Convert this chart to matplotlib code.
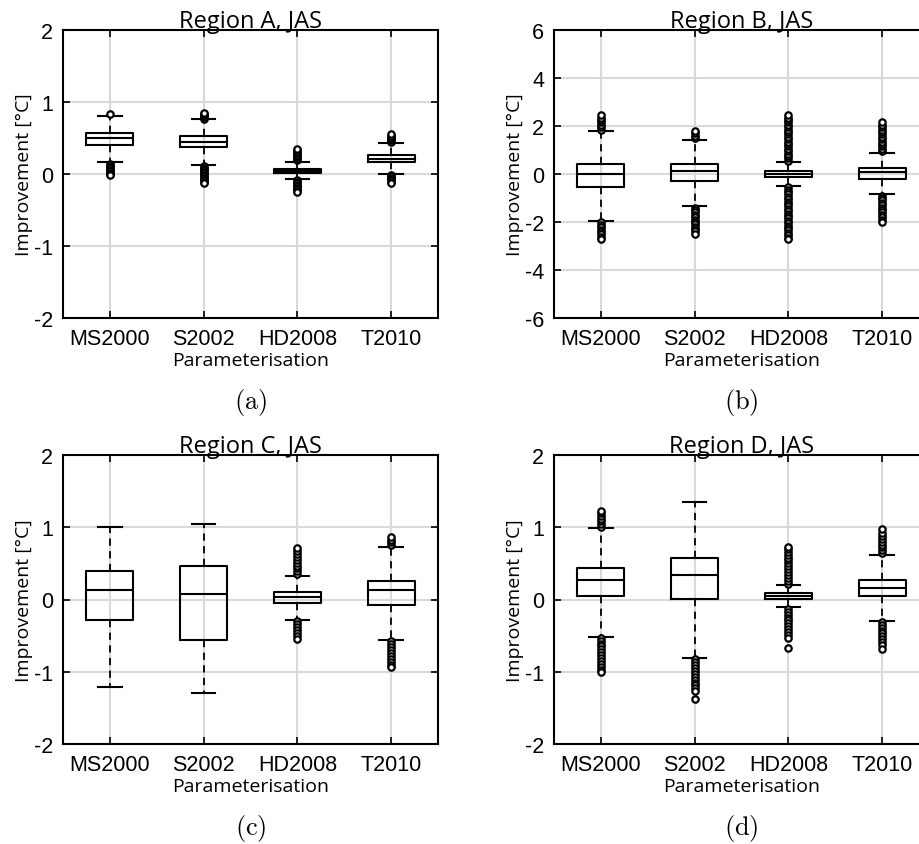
import matplotlib
matplotlib.use("Agg")
import matplotlib.pyplot as plt

plt.rcParams['mathtext.fontset'] = 'cm'
plt.rcParams['font.family'] = ['Liberation Sans', 'DejaVu Sans']

categories = ["MS2000", "S2002", "HD2008", "T2010"]
panel_titles = ["Region A, JAS", "Region B, JAS", "Region C, JAS", "Region D, JAS"]
panel_tags = ["(a)", "(b)", "(c)", "(d)"]
y_limits = [(-2, 2), (-6, 6), (-2, 2), (-2, 2)]
y_ticks = [[-2, -1, 0, 1, 2], [-6, -4, -2, 0, 2, 4, 6], [-2, -1, 0, 1, 2], [-2, -1, 0, 1, 2]]

# Box statistics per panel: [lower whisker, q1, median, q3, upper whisker]
stats_a = [[0.16, 0.40, 0.50, 0.57, 0.81],
           [0.13, 0.37, 0.445, 0.53, 0.77],
           [-0.075, 0.015, 0.045, 0.075, 0.17],
           [0.0, 0.16, 0.21, 0.27, 0.435]]
stats_b = [[-1.95, -0.54, 0.0, 0.40, 1.78],
           [-1.34, -0.31, 0.14, 0.42, 1.43],
           [-0.50, -0.14, 0.0, 0.14, 0.50],
           [-0.83, -0.21, 0.07, 0.24, 0.89]]
stats_c = [[-1.21, -0.28, 0.125, 0.39, 1.0],
           [-1.29, -0.554, 0.08, 0.457, 1.04],
           [-0.28, -0.05, 0.037, 0.10, 0.33],
           [-0.56, -0.074, 0.125, 0.25, 0.73]]
stats_d = [[-0.516, 0.05, 0.276, 0.43, 0.986],
           [-0.81, 0.01, 0.336, 0.571, 1.355],
           [-0.11, 0.01, 0.046, 0.0876, 0.207],
           [-0.295, 0.046, 0.166, 0.276, 0.622]]

# Outliers per panel and parameterisation
fliers_a = [[0.84, 0.14, 0.12, 0.10, 0.08, 0.06, 0.04, 0.02, 0.0, -0.02],
            [0.77, 0.79, 0.81, 0.83, 0.85, 0.11, 0.09, 0.07, 0.05, 0.03, 0.01,
             -0.01, -0.03, -0.05, -0.07, -0.09, -0.11, -0.13],
            [0.19, 0.21, 0.23, 0.25, 0.27, 0.29, 0.31, 0.33, 0.35,
             -0.09, -0.11, -0.13, -0.15, -0.17, -0.19, -0.21, -0.23, -0.25],
            [0.45, 0.47, 0.49, 0.51, 0.53, 0.55,
             -0.01, -0.03, -0.05, -0.07, -0.09, -0.11, -0.13]]
fliers_b = [[1.85, 1.95, 2.05, 2.15, 2.25, 2.35, 2.45,
             -2.02, -2.12, -2.22, -2.32, -2.42, -2.52, -2.62, -2.72],
            [1.50, 1.60, 1.70, 1.78,
             -1.40, -1.50, -1.60, -1.70, -1.80, -1.90, -2.00, -2.10, -2.20, -2.30, -2.38, -2.52],
            [0.55, 0.65, 0.75, 0.85, 0.95, 1.05, 1.15, 1.25, 1.35, 1.45,
             1.55, 1.65, 1.75, 1.85, 1.95, 2.05, 2.15, 2.25, 2.35, 2.45,
             -0.55, -0.65, -0.75, -0.85, -0.95, -1.05, -1.15, -1.25, -1.35, -1.45, -1.55,
             -1.65, -1.75, -1.85, -1.95, -2.05, -2.15, -2.25, -2.35, -2.45, -2.55, -2.65, -2.72],
            [0.95, 1.05, 1.15, 1.25, 1.35, 1.45, 1.55, 1.65, 1.75, 1.85, 1.95, 2.05, 2.18,
             -0.90, -1.00, -1.10, -1.20, -1.30, -1.40, -1.50, -1.60, -1.70, -1.80, -1.90, -1.98]]
fliers_c = [[],
            [],
            [0.35, 0.39, 0.43, 0.47, 0.51, 0.55, 0.59, 0.63, 0.67, 0.71,
             -0.30, -0.34, -0.38, -0.42, -0.46, -0.50, -0.54],
            [0.75, 0.79, 0.83, 0.87,
             -0.58, -0.62, -0.66, -0.70, -0.74, -0.78, -0.82, -0.86, -0.90, -0.94]]
fliers_d = [[1.00, 1.04, 1.08, 1.12, 1.16, 1.20, 1.23,
             -0.53, -0.57, -0.61, -0.65, -0.69, -0.73, -0.77, -0.81, -0.85, -0.89, -0.93, -0.97, -1.00],
            [-0.83, -0.87, -0.91, -0.95, -0.99, -1.03, -1.07, -1.11, -1.15, -1.19, -1.23, -1.27, -1.38],
            [0.22, 0.26, 0.30, 0.34, 0.38, 0.42, 0.46, 0.50, 0.54, 0.58, 0.62, 0.66, 0.70, 0.73,
             -0.13, -0.17, -0.21, -0.25, -0.29, -0.33, -0.37, -0.41, -0.45, -0.49, -0.53, -0.67],
            [0.64, 0.68, 0.72, 0.76, 0.80, 0.84, 0.88, 0.92, 0.97,
             -0.31, -0.35, -0.39, -0.43, -0.47, -0.51, -0.55, -0.59, -0.63, -0.68]]

all_stats = [stats_a, stats_b, stats_c, stats_d]
all_fliers = [fliers_a, fliers_b, fliers_c, fliers_d]

W, H = 920, 845
fig = plt.figure(figsize=(W / 100, H / 100), dpi=100)

# axes rectangles in pixels: left, top, width, height
rects = [(63, 31, 375, 288), (554, 31, 375, 288),
         (63, 456, 375, 289), (554, 456, 375, 289)]

title_font = dict(family=["Open Sans", "DejaVu Sans"], fontsize=17)
label_font = dict(family=["Open Sans", "DejaVu Sans"], fontsize=14)
grid_color = "#d9d9d9"

for k in range(4):
    l, t, w, h = rects[k]
    ax = fig.add_axes([l / W, 1 - (t + h) / H, w / W, h / H])
    bstats = []
    for i, name in enumerate(categories):
        lo, q1, med, q3, hi = all_stats[k][i]
        bstats.append(dict(label=name, whislo=lo, q1=q1, med=med, q3=q3,
                           whishi=hi, fliers=all_fliers[k][i]))
    ax.bxp(bstats, positions=[1, 2, 3, 4], widths=0.5, showfliers=True,
           boxprops=dict(color="black", linewidth=1.5),
           medianprops=dict(color="black", linewidth=1.5),
           whiskerprops=dict(color="black", linewidth=1.3, linestyle=(0, (4, 3))),
           capprops=dict(color="black", linewidth=1.5),
           flierprops=dict(marker="o", markersize=4.6, markerfacecolor="white",
                           markeredgecolor="black", markeredgewidth=1.6),
           zorder=3)
    ax.set_xlim(0.5, 4.5)
    ax.set_ylim(*y_limits[k])
    ax.set_yticks(y_ticks[k])
    ax.set_yticklabels([str(v) for v in y_ticks[k]])
    ax.set_xticks([1, 2, 3, 4])
    ax.set_xticklabels(categories)
    ax.grid(True, color=grid_color, linewidth=1.5, zorder=0)
    ax.set_axisbelow(True)
    ax.tick_params(direction="in", top=True, right=True, length=5, width=1.2,
                   labelsize=15.5, pad=7)
    for sp in ax.spines.values():
        sp.set_linewidth(1.5)
    ax.set_title(panel_titles[k], pad=2, **title_font)
    ax.set_xlabel("Parameterisation", labelpad=2, **label_font)
    ax.set_ylabel("Improvement [°C]", labelpad=1, **label_font)
    tag_y = t + h + 84
    fig.text((l + w / 2) / W, 1 - tag_y / H, r"$\mathrm{" + panel_tags[k] + "}$",
             ha="center", va="center", fontsize=19)

fig.savefig("out.png", dpi=100)
